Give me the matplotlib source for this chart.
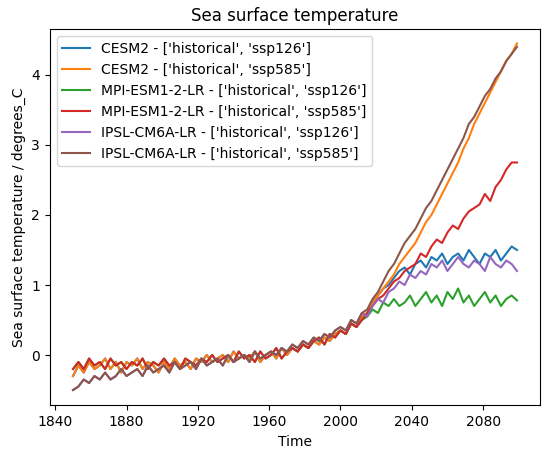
import numpy as np
import matplotlib
matplotlib.use("Agg")
import matplotlib.pyplot as plt

# historical anomalies, every 3 years from 1850
hist_cesm = [-0.3,-0.15,-0.25,-0.1,-0.2,-0.15,-0.05, -0.2,-0.1,-0.25,-0.1,-0.15, -0.05,-0.2,-0.1,-0.15,-0.25,
             -0.1,-0.2,-0.05,-0.15,-0.1, -0.2,-0.05,-0.1,0.0,-0.1, -0.05,0.0,-0.1,0.05,-0.05, 0.0,-0.05,0.05,-0.1,0.0,
             0.05,-0.05,0.1,0.0,0.1, 0.05,0.15,0.1,0.2,0.15, 0.25,0.2,0.3,0.35,0.3, 0.45,0.4,0.55]
hist_mpi = [-0.2,-0.1,-0.2,-0.05,-0.15,-0.1,-0.2, -0.05,-0.15,-0.1,-0.2,-0.1, -0.15,-0.05,-0.2,-0.1,-0.15,
            -0.05,-0.15,-0.1,-0.2,-0.05, -0.1,-0.15,-0.05,-0.1,0.0, -0.1,-0.05,0.0,-0.1,0.05, -0.05,0.0,-0.1,0.05,-0.05,
            0.0,0.1,-0.05,0.05,0.1, 0.05,0.15,0.1,0.2,0.25, 0.15,0.3,0.25,0.35,0.3, 0.45,0.4,0.5]
hist_ipsl = [-0.5,-0.45,-0.35,-0.4,-0.3,-0.35,-0.25, -0.35,-0.3,-0.2,-0.3,-0.25, -0.2,-0.3,-0.15,-0.25,-0.2,
             -0.15,-0.25,-0.1,-0.2,-0.15, -0.1,-0.2,-0.05,-0.15,-0.1, -0.05,-0.15,0.0,-0.1,-0.05, 0.0,-0.1,0.05,-0.05,0.0,
             0.05,0.0,0.1,0.05,0.15, 0.1,0.2,0.15,0.25,0.2, 0.3,0.25,0.35,0.4,0.35, 0.5,0.45,0.6]
# scenario anomalies, every 3 years from 2015
cesm_126 = [0.6,0.75,0.85,0.95,1.0,1.1,1.2,1.25,1.15,1.3,1.35,1.25,1.4,1.35,1.45,1.3,1.4,1.45,1.35,1.5,1.4,1.3,1.45,1.4,1.5,1.35,1.45,1.55,1.5]
cesm_585 = [0.6,0.75,0.85,0.95,1.05,1.15,1.3,1.4,1.5,1.6,1.75,1.9,2.0,2.15,2.3,2.45,2.6,2.75,2.95,3.1,3.3,3.45,3.6,3.75,3.9,4.05,4.2,4.3,4.45]
mpi_126 = [0.55,0.65,0.6,0.75,0.7,0.8,0.7,0.75,0.85,0.7,0.8,0.9,0.75,0.85,0.7,0.9,0.8,0.95,0.75,0.85,0.7,0.8,0.9,0.75,0.85,0.7,0.8,0.85,0.78]
mpi_585 = [0.6,0.7,0.8,0.85,0.95,1.05,1.1,1.2,1.25,1.3,1.45,1.4,1.55,1.65,1.6,1.75,1.85,1.8,1.95,2.05,2.1,2.15,2.3,2.2,2.4,2.5,2.65,2.75,2.75]
ipsl_126 = [0.55,0.7,0.8,0.75,0.9,0.95,1.05,1.0,1.15,1.1,1.2,1.15,1.3,1.25,1.35,1.2,1.3,1.4,1.3,1.25,1.35,1.3,1.2,1.4,1.3,1.25,1.35,1.3,1.2]
ipsl_585 = [0.65,0.8,0.9,1.05,1.2,1.3,1.45,1.6,1.7,1.8,1.95,2.1,2.2,2.35,2.5,2.65,2.8,2.95,3.1,3.3,3.4,3.55,3.7,3.8,3.95,4.05,4.2,4.3,4.4]

labels = ["CESM2 - ['historical', 'ssp126']", "CESM2 - ['historical', 'ssp585']",
          "MPI-ESM1-2-LR - ['historical', 'ssp126']", "MPI-ESM1-2-LR - ['historical', 'ssp585']",
          "IPSL-CM6A-LR - ['historical', 'ssp126']", "IPSL-CM6A-LR - ['historical', 'ssp585']"]
hists = [hist_cesm, hist_cesm, hist_mpi, hist_mpi, hist_ipsl, hist_ipsl]
futs = [cesm_126, cesm_585, mpi_126, mpi_585, ipsl_126, ipsl_585]

fig, ax = plt.subplots(figsize=(5.54, 4.53), dpi=100)
for lab, h, f in zip(labels, hists, futs):
    yh = 1850 + 3*np.arange(len(h))
    yf = 2015 + 3*np.arange(len(f))
    ax.plot(np.concatenate([yh, yf]), np.concatenate([h, f]), label=lab)
ax.set_xticks([1840,1880,1920,1960,2000,2040,2080])
ax.set_xlim(1837, 2112)
ax.set_ylim(-0.72, 4.65)
ax.set_title("Sea surface temperature")
ax.set_xlabel("Time")
ax.set_ylabel("Sea surface temperature / degrees_C")
ax.legend(loc="upper left")
fig.subplots_adjust(left=0.09, right=0.975, top=0.935, bottom=0.105)
fig.savefig("out.png", dpi=100)
